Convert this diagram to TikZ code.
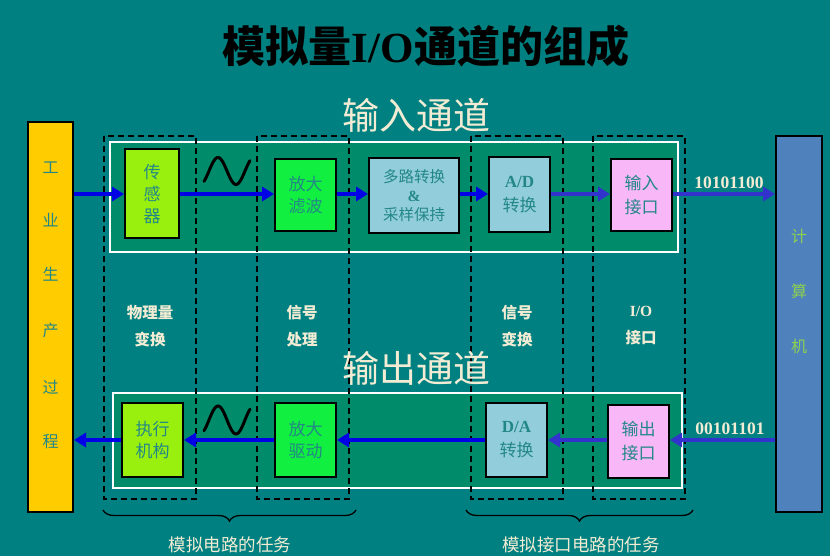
\documentclass[tikz,border=0pt]{standalone}
\usepackage{fontspec}
\setmainfont{Noto Sans CJK SC}
\newfontfamily\tnr{Liberation Serif}
\usetikzlibrary{arrows.meta,decorations.pathreplacing}
\definecolor{bgteal}{RGB}{0,128,128}
\definecolor{chgreen}{RGB}{0,140,106}
\definecolor{baryellow}{RGB}{255,204,0}
\definecolor{barblue}{RGB}{79,129,189}
\definecolor{limeg}{RGB}{153,240,15}
\definecolor{brightg}{RGB}{17,240,64}
\definecolor{lblue}{RGB}{146,205,220}
\definecolor{pinkb}{RGB}{248,184,248}
\definecolor{arrblue}{RGB}{0,0,230}
\definecolor{arrpurp}{RGB}{50,50,205}
\definecolor{txteal}{RGB}{35,135,135}
\definecolor{cream}{RGB}{242,236,212}
\definecolor{compgreen}{RGB}{140,208,80}
\tikzset{
  box/.style={draw=black,line width=2pt,inner sep=0pt,align=center,
    text=txteal,font=\fontsize{17}{22}\selectfont},
  chan/.style={draw=white,line width=2pt,fill=chgreen},
  dbox/.style={draw=black,line width=1.8pt,dash pattern=on 6pt off 4pt},
  arr/.style={line width=3.2pt,arrblue,-{Triangle[length=12pt,width=14pt]}},
  arrp/.style={line width=3.2pt,arrpurp,-{Triangle[length=12pt,width=14pt]}},
  midlab/.style={text=cream,font=\bfseries\fontsize{15.5}{27}\selectfont,align=center},
  chtitle/.style={text=cream,font=\fontsize{37}{40}\selectfont},
  bits/.style={text=cream,font=\tnr\bfseries\fontsize{17.5}{20}\selectfont},
  wave/.style={line width=3pt,black,line cap=round},
  brlab/.style={text=cream,font=\fontsize{17.5}{20}\selectfont}
}
\begin{document}
\begin{tikzpicture}[x=1pt,y=-1pt]
\fill[bgteal] (0,0) rectangle (830,556);
\useasboundingbox (0,0) rectangle (830,556);
% title
\node[font=\bfseries\fontsize{43}{46}\selectfont,text=black] (title) at (426,46) {模拟量{\tnr\bfseries I/O}通道的组成};
% channel backgrounds
\draw[chan] (110,142) rectangle (678,252);
\draw[chan] (113,393) rectangle (682,488);
% dashed columns
\draw[dbox] (104,136) rectangle (196,499);
\draw[dbox] (257,136) rectangle (349,499);
\draw[dbox] (471,136) rectangle (563,499);
\draw[dbox] (593,136) rectangle (685,499);
% channel titles
\node[chtitle] (tin) at (416,115) {输入通道};
\node[chtitle] (tout) at (416,368) {输出通道};
% side bars
\node[draw=black,line width=2pt,fill=baryellow,minimum width=45,minimum height=390,inner sep=0pt] (ind) at (50.5,317) {};
\foreach \c/\yy [count=\i] in {工/168,业/220,生/274,产/330,过/387,程/442}
  \node[text=txteal,font=\fontsize{16}{18}\selectfont] (indc\i) at (50.5,\yy) {\c};
\node[draw=black,line width=2pt,fill=barblue,minimum width=46,minimum height=376,inner sep=0pt] (comp) at (799,324) {};
\foreach \c/\yy [count=\i] in {计/236,算/291,机/346}
  \node[text=compgreen,font=\fontsize{16}{18}\selectfont] (compc\i) at (799,\yy) {\c};
% input row boxes
\node[box,fill=limeg,minimum width=54,minimum height=89] (sens) at (152,194) {传\\感\\器};
\node[box,fill=brightg,minimum width=61,minimum height=72] (amp1) at (305.5,195) {放大\\滤波};
\node[box,fill=lblue,minimum width=90,minimum height=75,font=\fontsize{15.5}{19}\selectfont] (mux) at (414,195.5) {多路转换\\{\tnr\bfseries \&}\\采样保持};
\node[box,fill=lblue,minimum width=61,minimum height=75] (adc) at (519.5,194.5) {{\tnr\bfseries A/D}\\[2pt]转换};
\node[box,fill=pinkb,minimum width=61,minimum height=72] (inif) at (641.5,195) {输入\\[2pt]接口};
% waves
\draw[wave] plot[domain=204:250,samples=40,smooth] (\x,{171-13.5*cos((\x-218)*10)});
\draw[wave] plot[domain=204:250,samples=40,smooth] (\x,{420-14*cos((\x-218)*10)});
% input arrows
\draw[arr] (ind.east |- sens.west) -- (sens.west);
\draw[arr] (sens.east) -- (sens.east -| amp1.west);
\draw[arr] (amp1.east |- sens.east) -- (sens.east -| mux.west);
\draw[arr] (mux.east |- sens.east) -- (sens.east -| adc.west);
\draw[arrp] (adc.east |- sens.east) -- (sens.east -| inif.west);
\draw[arrp] (inif.east |- sens.east) -- node[bits,above=0pt,pos=0.5,xshift=5pt] (b1) {10101100} (sens.east -| comp.west);
% output row boxes
\node[box,fill=limeg,minimum width=61,minimum height=74] (act) at (152.5,440) {执行\\机构};
\node[box,fill=brightg,minimum width=61,minimum height=74] (amp2) at (305.5,440) {放大\\驱动};
\node[box,fill=lblue,minimum width=61,minimum height=74] (dac) at (516.5,440) {{\tnr\bfseries D/A}\\[2pt]转换};
\node[box,fill=pinkb,minimum width=61,minimum height=73] (outif) at (638.5,441) {输出\\[2pt]接口};
% output arrows
\coordinate (oy) at (0,440);
\draw[arrp] (comp.west |- oy) -- node[bits,above=0pt,pos=0.5,xshift=7.5pt] (b2) {00101101} (outif.east |- oy);
\draw[arrp] (outif.west |- oy) -- (dac.east |- oy);
\draw[arr] (dac.west |- oy) -- (amp2.east |- oy);
\draw[arr] (amp2.west |- oy) -- (act.east |- oy);
\draw[arr] (act.west |- oy) -- (ind.east |- oy);
% middle labels
\node[midlab] (l1) at (150,326) {物理量\\变换};
\node[midlab] (l2) at (302,326) {信号\\处理};
\node[midlab] (l3) at (517,326) {信号\\变换};
\node[midlab] (l4) at (641,326) {{\tnr\bfseries I/O}\\接口};
% braces
\coordinate (bra) at (103,510);
\coordinate (brb) at (356,510);
\coordinate (brc) at (466,510);
\coordinate (brd) at (693,510);
\draw[line width=1.3pt,black,decorate,decoration={brace,mirror,amplitude=11pt}] (bra) -- (brb);
\draw[line width=1.3pt,black,decorate,decoration={brace,mirror,amplitude=11pt}] (brc) -- (brd);
\node[brlab] (bl1) at (230,545) {模拟电路的任务};
\node[brlab] (bl2) at (581,545) {模拟接口电路的任务};
\end{tikzpicture}
\end{document}
